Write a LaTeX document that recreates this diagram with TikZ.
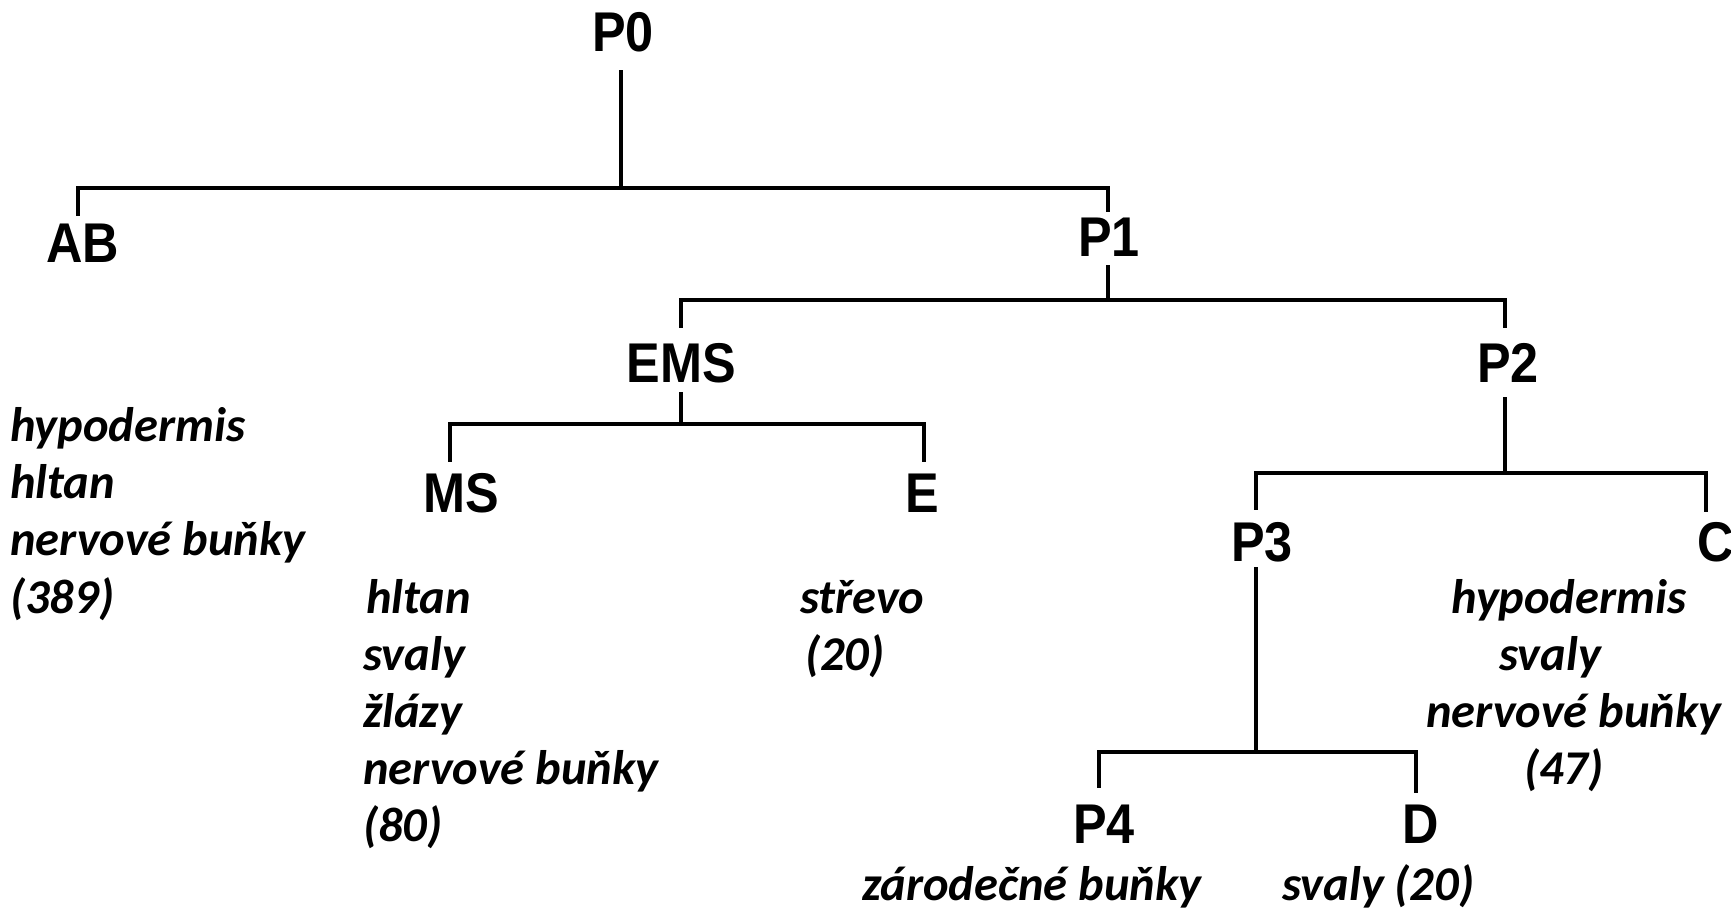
\documentclass[tikz,border=0pt]{standalone}
\usepackage{fontspec}
\setmainfont{Carlito}
\newfontfamily\labfont{Liberation Sans}
\newcommand{\nlab}[1]{\scalebox{0.9}[1]{#1}}
\begin{document}
\begin{tikzpicture}[x=1pt,y=-1pt,
  ln/.style={line width=3.5pt},
  lab/.style={inner sep=0pt, text height=40pt, text depth=0pt, font=\labfont\bfseries\fontsize{56}{56}\selectfont},
  it/.style={inner sep=0pt, anchor=base west, font=\bfseries\itshape\fontsize{48.5}{57}\selectfont}]
\useasboundingbox[fill=white] (0,0) rectangle (1731,909);

% labels
\node[lab] (P0)  at (623,32)  {\nlab{P0}};
\node[lab] (AB)  at (83,242)  {\nlab{AB}};
\node[lab] (P1)  at (1109,237) {\nlab{P1}};
\node[lab] (EMS) at (681,362) {\nlab{EMS}};
\node[lab] (P2)  at (1508,362) {\nlab{P2}};
\node[lab] (MS)  at (461,492) {\nlab{MS}};
\node[lab] (E)   at (922,492) {\nlab{E}};
\node[lab] (P3)  at (1262,541) {\nlab{P3}};
\node[lab] (C)   at (1716,541) {\nlab{C}};
\node[lab] (P4)  at (1104,823) {\nlab{P4}};
\node[lab] (D)   at (1421,823) {\nlab{D}};

% junctions
\coordinate (j0) at (621,188);
\coordinate (j1) at (1108,300);
\coordinate (j2) at (681,424);
\coordinate (j3) at (1505,473);
\coordinate (j4) at (1256,752);

% connectors
\draw[ln] ([shift={(-2,18)}]P0.south) -- (j0);
\draw[ln] ([shift={(-5,-6)}]AB.north) |- (j0) -| ([shift={(-1,-5)}]P1.north);
\draw[ln] ([shift={(-1,8)}]P1.south) -- (j1);
\draw[ln] ([shift={(0,-14)}]EMS.north) |- (j1) -| ([shift={(-3,-14)}]P2.north);
\draw[ln] ([shift={(0,10)}]EMS.south) -- (j2);
\draw[ln] ([shift={(-11,-10)}]MS.north) |- (j2) -| ([shift={(2,-10)}]E.north);
\draw[ln] ([shift={(-3,15)}]P2.south) -- (j3);
\draw[ln] ([shift={(-6,-11)}]P3.north) |- (j3) -| ([shift={(-10,-9)}]C.north);
\draw[ln] ([shift={(-6,6)}]P3.south) -- (j4);
\draw[ln] ([shift={(-5,-15)}]P4.north) |- (j4) -| ([shift={(-5,-10)}]D.north);

% AB fates
\node[it] (t1) at (10,441) {hypodermis};
\node[it] (t2) at (10,498) {hltan};
\node[it] (t3) at (10,555) {nervové buňky};
\node[it] (t4) at (10,613) {(389)};
% MS fates
\node[it] (t5) at (366,613) {hltan};
\node[it] (t6) at (363,670) {svaly};
\node[it] (t7) at (363,727) {žlázy};
\node[it] (t8) at (363,784) {nervové buňky};
\node[it] (t9) at (363,841) {(80)};
% E fates
\node[it] (t10) at (800,613) {střevo};
\node[it] (t11) at (805,670) {(20)};
% C fates
\node[it] (t12) at (1451,613) {hypodermis};
\node[it] (t13) at (1499,670) {svaly};
\node[it] (t14) at (1426,727) {nervové buňky};
\node[it] (t15) at (1524,784) {(47)};
% P4 and D fates
\node[it] (t16) at (862,900) {zárodečné buňky};
\node[it] (t17) at (1282,900) {svaly (20)};
\end{tikzpicture}
\end{document}
